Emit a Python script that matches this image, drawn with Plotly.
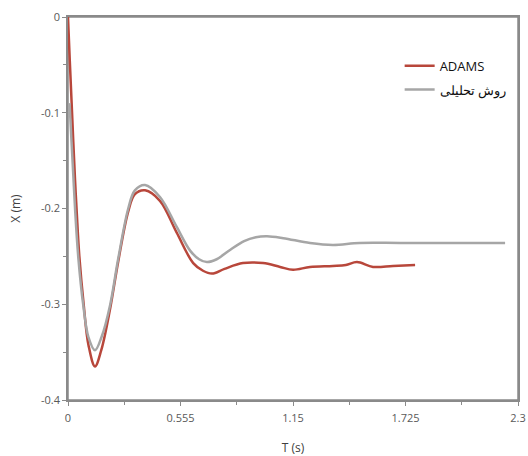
import plotly.graph_objects as go

# Analytical solution (grey)
t_analytic = [0.008, 0.018, 0.027, 0.036, 0.053, 0.078, 0.104, 0.138, 0.172, 0.215, 0.257, 0.308,
              0.342, 0.394, 0.47, 0.555, 0.624, 0.67, 0.71, 0.76, 0.83, 0.9, 0.96, 1.017, 1.1,
              1.237, 1.354, 1.49, 1.7, 2.0, 2.234]
x_analytic = [-0.09, -0.13, -0.165, -0.2, -0.252, -0.301, -0.334, -0.348, -0.334, -0.301, -0.252, -0.2,
              -0.181, -0.1755, -0.188, -0.219, -0.244, -0.253, -0.256, -0.253, -0.243, -0.234, -0.23, -0.229, -0.231,
              -0.236, -0.238, -0.236, -0.236, -0.236, -0.236]

# ADAMS (red)
t_adams = [0.0, 0.009, 0.018, 0.027, 0.036, 0.045, 0.058, 0.08, 0.105, 0.138, 0.17, 0.215, 0.257,
           0.308, 0.342, 0.394, 0.47, 0.555, 0.64, 0.69, 0.736, 0.8, 0.894, 0.997, 1.084,
           1.15, 1.237, 1.354, 1.42, 1.477, 1.559, 1.661, 1.774]
x_adams = [0.0, -0.045, -0.087, -0.13, -0.17, -0.205, -0.25, -0.3, -0.343, -0.365, -0.348, -0.305, -0.255,
           -0.203, -0.185, -0.181, -0.192, -0.225, -0.257, -0.265, -0.268, -0.263, -0.257, -0.257, -0.261,
           -0.264, -0.261, -0.260, -0.259, -0.256, -0.261, -0.260, -0.259]

x_tickvals = [0, 0.575, 1.15, 1.725, 2.3]
x_ticktext = ["0", "0.555", "1.15", "1.725", "2.3"]
x_minor = [0.2875, 0.8625, 1.4375, 2.0125]
y_tickvals = [0, -0.1, -0.2, -0.3, -0.4]
y_ticktext = ["0", "-0.1", "-0.2", "-0.3", "-0.4"]

fig = go.Figure()
fig.add_trace(go.Scatter(x=t_adams, y=x_adams, mode="lines", name="ADAMS", legendgroup="a",
                         line=dict(color="#b8473b", width=2.5, shape="spline", smoothing=1.0)))
fig.add_trace(go.Scatter(x=t_analytic, y=x_analytic, mode="lines", name="روش تحلیلی", legendgroup="b",
                         line=dict(color="#a6a6a6", width=2.5, shape="spline", smoothing=1.0)))

axis_common = dict(showline=True, mirror=True, linecolor="#8a8a8a", linewidth=1.5,
                   ticks="outside", ticklen=4, tickcolor="#8a8a8a", showgrid=False, zeroline=False,
                   automargin=False,
                   tickfont=dict(family="Open Sans", size=11, color="#595959"))

fig.update_xaxes(range=[0, 2.3], tickvals=x_tickvals, ticktext=x_ticktext, ticklabelstandoff=3,
                 minor=dict(tickvals=x_minor, ticks="outside", ticklen=3, tickcolor="#8a8a8a"),
                 title=dict(text="T (s)", font=dict(family="Open Sans", size=12, color="#404040"), standoff=22),
                 **axis_common)
fig.update_yaxes(range=[-0.4, 0], tickvals=y_tickvals, ticktext=y_ticktext,
                 minor=dict(dtick=0.05, tick0=0, ticks="outside", ticklen=3, tickcolor="#8a8a8a"),
                 title=dict(text="X (m)", font=dict(family="Open Sans", size=12, color="#404040"), standoff=18),
                 **axis_common)

# plot frame
fig.add_shape(type="rect", xref="paper", yref="paper", x0=0, y0=0, x1=1, y1=1,
              line=dict(color="#8a8a8a", width=1.5), layer="below")

fig.update_layout(width=528, height=456, margin=dict(l=68, r=10, t=17, b=56),
                  paper_bgcolor="white", plot_bgcolor="white",
                  legend=dict(x=0.737, y=0.912, xanchor="left", yanchor="top", bgcolor="rgba(0,0,0,0)",
                              font=dict(family="Open Sans", size=13, color="#111"), itemwidth=30,
                              tracegroupgap=4))

fig.write_html("out.html")
